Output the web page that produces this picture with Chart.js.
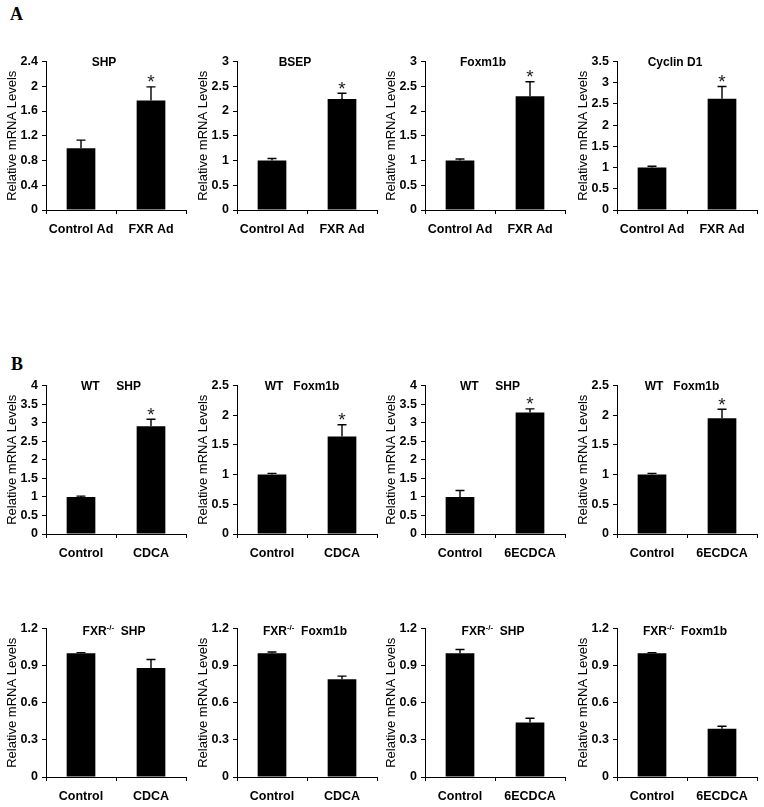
<!DOCTYPE html>
<html><head><meta charset="utf-8">
<script src="https://cdn.jsdelivr.net/npm/chart.js@4.4.0/dist/chart.umd.min.js"></script>
<style>
body{margin:0;background:#fff;width:764px;height:807px;position:relative;overflow:hidden;}
canvas{position:absolute;}
.lbl{position:absolute;font-family:"Liberation Serif","Times New Roman",serif;font-weight:bold;font-size:18px;line-height:18px;color:#000;}
</style></head><body>
<div class="lbl" style="left:10px;top:5px">A</div>
<div class="lbl" style="left:11px;top:355px">B</div>
<script>
// ---------- data ----------
const yTitle = 'Relative mRNA Levels';
const catsFxrAd = ['Control Ad', 'FXR Ad'];
const catsCdca = ['Control', 'CDCA'];
const cats6e = ['Control', '6ECDCA'];

const shpAd = [1.0, 1.77];        const shpAdErr = [0.13, 0.22];
const bsepAd = [1.0, 2.24];       const bsepAdErr = [0.04, 0.12];
const foxm1bAd = [1.0, 2.3];      const foxm1bAdErr = [0.03, 0.29];
const cyclinD1Ad = [1.0, 2.62];   const cyclinD1AdErr = [0.03, 0.29];

const wtShpCdca = [1.0, 2.9];     const wtShpCdcaErr = [0.02, 0.19];
const wtFoxCdca = [1.0, 1.64];    const wtFoxCdcaErr = [0.02, 0.2];
const wtShp6e = [1.0, 3.27];      const wtShp6eErr = [0.17, 0.1];
const wtFox6e = [1.0, 1.95];      const wtFox6eErr = [0.02, 0.15];

const koShpCdca = [1.0, 0.88];    const koShpCdcaErr = [0.005, 0.07];
const koFoxCdca = [1.0, 0.79];    const koFoxCdcaErr = [0.01, 0.025];
const koShp6e = [1.0, 0.44];      const koShp6eErr = [0.03, 0.035];
const koFox6e = [1.0, 0.39];      const koFox6eErr = [0.005, 0.02];

const yMaxes = [2.4, 3, 3, 3.5, 4, 2.5, 4, 2.5, 1.2, 1.2, 1.2, 1.2];
const ySteps = [0.4, 0.5, 0.5, 0.5, 0.5, 0.5, 0.5, 0.5, 0.3, 0.3, 0.3, 0.3];
const starOnSecond = [true, true, true, true, true, true, true, true, false, false, false, false];

// panel titles as [text, 'n'|'s'] segments ('s' = superscript)
const titles = [
  [['SHP','n']], [['BSEP','n']], [['Foxm1b','n']], [['Cyclin D1','n']],
  [['WT     SHP','n']], [['WT   Foxm1b','n']], [['WT     SHP','n']], [['WT   Foxm1b','n']],
  [['FXR','n'],['-/-','s'],['  SHP','n']], [['FXR','n'],['-/-','s'],['  Foxm1b','n']],
  [['FXR','n'],['-/-','s'],['  SHP','n']], [['FXR','n'],['-/-','s'],['  Foxm1b','n']]
];

const panelCats = [catsFxrAd, catsFxrAd, catsFxrAd, catsFxrAd, catsCdca, catsCdca, cats6e, cats6e, catsCdca, catsCdca, cats6e, cats6e];
const panelVals = [shpAd, bsepAd, foxm1bAd, cyclinD1Ad, wtShpCdca, wtFoxCdca, wtShp6e, wtFox6e, koShpCdca, koFoxCdca, koShp6e, koFox6e];
const panelErrs = [shpAdErr, bsepAdErr, foxm1bAdErr, cyclinD1AdErr, wtShpCdcaErr, wtFoxCdcaErr, wtShp6eErr, wtFox6eErr, koShpCdcaErr, koFoxCdcaErr, koShp6eErr, koFox6eErr];

// ---------- layout ----------
const FONT = '"Liberation Sans", Arial, Helvetica, sans-serif';
const colX = [46, 237, 425, 617];
const rowTop = [60, 384, 627];
const titleDx = [58, 65, 68];
const titleDy = [1, 1, 3];
const AXW = 41;

const panelPlugin = {
  id: 'panelExtras',
  afterDatasetsDraw(chart, args, opts) {
    const ctx = chart.ctx;
    const meta = chart.getDatasetMeta(0);
    const ys = chart.scales.y;
    const vals = chart.data.datasets[0].data;
    ctx.save();
    ctx.strokeStyle = '#000';
    ctx.lineWidth = 1.4;
    meta.data.forEach((bar, i) => {
      const yTop = ys.getPixelForValue(vals[i] + opts.errors[i]);
      ctx.beginPath();
      ctx.moveTo(bar.x, bar.y);
      ctx.lineTo(bar.x, yTop);
      ctx.moveTo(bar.x - 4.5, yTop);
      ctx.lineTo(bar.x + 4.5, yTop);
      ctx.stroke();
      if (opts.star && i === 1) {
        ctx.fillStyle = '#222';
        ctx.font = '19px ' + FONT;
        ctx.textAlign = 'center';
        ctx.textBaseline = 'alphabetic';
        ctx.fillText('*', bar.x, yTop + 1.5);
      }
    });
    // title
    const ca = chart.chartArea;
    const cx = ca.left + opts.dx;
    const cy = ca.top + opts.dy;
    const segs = opts.title.map(([t, k]) => ({t, k, font: (k === 's' ? 'bold 8px ' : 'bold 12px ') + FONT}));
    let total = 0;
    segs.forEach(s => { ctx.font = s.font; s.w = ctx.measureText(s.t).width; total += s.w; });
    let x = cx - total / 2;
    ctx.fillStyle = '#000';
    ctx.textAlign = 'left';
    ctx.textBaseline = 'middle';
    segs.forEach(s => {
      ctx.font = s.font;
      ctx.fillText(s.t, x, s.k === 's' ? cy - 4 : cy);
      x += s.w;
    });
    ctx.restore();
  }
};

for (let k = 0; k < 12; k++) {
  const row = Math.floor(k / 4);
  const cv = document.createElement('canvas');
  cv.width = 186; cv.height = 200;
  cv.style.left = (colX[k % 4] - AXW) + 'px';
  cv.style.top = (rowTop[row] - 10) + 'px';
  document.body.appendChild(cv);
  new Chart(cv, {
    type: 'bar',
    data: {
      labels: panelCats[k],
      datasets: [{ data: panelVals[k], backgroundColor: '#000', borderWidth: 0, barPercentage: 0.41, categoryPercentage: 1 }]
    },
    options: {
      responsive: false, animation: false, devicePixelRatio: 1,
      layout: { padding: { top: 10, bottom: 10, left: 0, right: 5 } },
      plugins: {
        legend: { display: false }, tooltip: { enabled: false },
        panelExtras: { errors: panelErrs[k], star: starOnSecond[k], title: titles[k], dx: titleDx[row], dy: titleDy[row] }
      },
      scales: {
        x: {
          grid: { display: true, drawOnChartArea: false, tickLength: 4, color: '#000', lineWidth: 1, offset: true },
          border: { display: true, color: '#000', width: 1 },
          ticks: { color: '#000', font: { family: FONT, size: 12.5, weight: 'bold' }, padding: 8, maxRotation: 0, autoSkip: false },
          afterFit(s) { s.height = 30; }
        },
        y: {
          min: 0, max: yMaxes[k],
          grid: { display: true, drawOnChartArea: false, tickLength: 4, color: '#000', lineWidth: 1 },
          border: { display: true, color: '#000', width: 1 },
          ticks: {
            stepSize: ySteps[k], color: '#000', font: { family: FONT, size: 12.5, weight: 'bold' }, padding: 4,
            callback: v => String(Math.round(v * 100) / 100)
          },
          title: { display: true, text: yTitle, color: '#000', font: { family: FONT, size: 13 }, padding: { top: 0, bottom: 0 } },
          afterFit(s) { s.width = AXW; }
        }
      }
    },
    plugins: [panelPlugin]
  });
}
</script></body></html>
